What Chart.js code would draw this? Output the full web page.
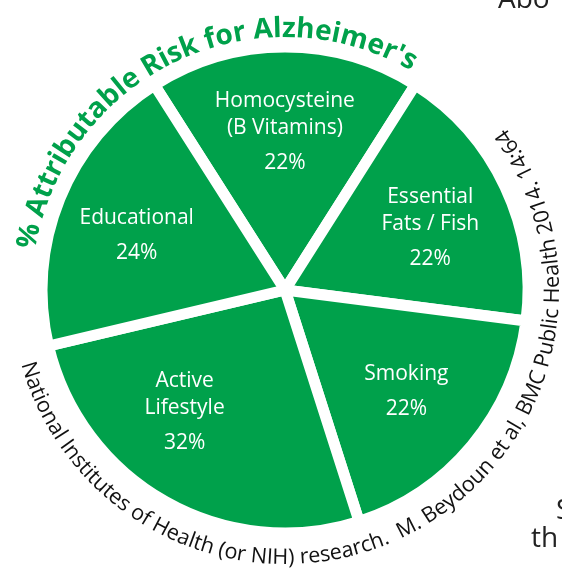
<!DOCTYPE html>
<html>
<head>
<meta charset="utf-8">
<script src="https://cdn.jsdelivr.net/npm/chart.js@4.4.1/dist/chart.umd.min.js"></script>
<style>
  html, body { margin: 0; padding: 0; background: #fff; }
  #marco { position: relative; width: 562px; height: 569px; overflow: hidden; }
  .suelto { position: absolute; font-family: 'Open Sans', sans-serif; font-size: 28px; color: #222; white-space: nowrap; line-height: 1; }
</style>
</head>
<body>
<div id="marco">
  <canvas id="chart" width="562" height="569"></canvas>
  <div class="suelto" style="left:498px; top:-17px;">Abo</div>
  <div class="suelto" style="left:556px; top:494px;">S</div>
  <div class="suelto" style="left:531px; top:522px;">th</div>
</div>
<script>
// datos
const categorias = [
  ['Homocysteine', '(B Vitamins)'],
  ['Essential', 'Fats / Fish'],
  ['Smoking'],
  ['Active', 'Lifestyle'],
  ['Educational']
];
const porcentajes = [22, 22, 22, 32, 24];

const titulo = "% Attributable Risk for Alzheimer's";
const fuente = 'National Institutes of Health (or NIH) research.  M. Beydoun et al, BMC Public Health 2014. 14:64';

const VERDE = '#00A14B';
// pequeño giro (grados) de cada etiqueta respecto al centro de su sector
const giroEtiqueta = [0, 2, 0, 10, -2];

// escribe un texto siguiendo un arco; angulo en grados desde arriba, sentido horario
function textoEnArco(ctx, texto, cx, cy, radio, anguloMedio, haciaFuera) {
  const total = ctx.measureText(texto).width;
  const dir = haciaFuera ? 1 : -1;
  let phi = (anguloMedio - 90) * Math.PI / 180 - dir * total / radio / 2;
  for (const ch of texto) {
    const w = ctx.measureText(ch).width;
    const a = phi + dir * w / radio / 2;
    ctx.save();
    ctx.translate(cx, cy);
    if (haciaFuera) {
      ctx.rotate(a + Math.PI / 2);
      ctx.fillText(ch, 0, -radio);
    } else {
      ctx.rotate(a - Math.PI / 2);
      ctx.fillText(ch, 0, radio);
    }
    ctx.restore();
    phi += dir * w / radio;
  }
}

const etiquetasPlugin = {
  id: 'etiquetas',
  afterDatasetsDraw(chart) {
    const ctx = chart.ctx;
    const arcos = chart.getDatasetMeta(0).data;
    ctx.save();
    ctx.fillStyle = '#fff';
    ctx.font = '21px "Open Sans", sans-serif';
    ctx.textAlign = 'center';
    ctx.textBaseline = 'middle';
    arcos.forEach((arco, i) => {
      const { x, y, startAngle, endAngle, outerRadius } = arco.getProps(['x', 'y', 'startAngle', 'endAngle', 'outerRadius'], true);
      const medio = (startAngle + endAngle) / 2 + giroEtiqueta[i] * Math.PI / 180;
      const r = outerRadius * 0.65;
      const px = x + Math.cos(medio) * r;
      const py = y + Math.sin(medio) * r;
      const lineas = categorias[i];
      const alto = (lineas.length - 1) * 27 + 35;
      const y0 = py - alto / 2;
      lineas.forEach((l, j) => ctx.fillText(l, px, y0 + j * 27));
      ctx.fillText(porcentajes[i] + '%', px, y0 + (lineas.length - 1) * 27 + 35);
    });
    ctx.restore();
  },
  afterDraw(chart) {
    const ctx = chart.ctx;
    const arco = chart.getDatasetMeta(0).data[0];
    const { x, y, outerRadius } = arco.getProps(['x', 'y', 'outerRadius'], true);
    ctx.save();
    ctx.textAlign = 'center';
    ctx.textBaseline = 'alphabetic';

    ctx.fillStyle = VERDE;
    ctx.font = 'bold 28px "Open Sans", sans-serif';
    textoEnArco(ctx, titulo, x, y, outerRadius + 10, -25.5, true);

    ctx.fillStyle = '#111';
    ctx.font = '21.5px "Open Sans", sans-serif';
    textoEnArco(ctx, fuente, x, y, outerRadius + 31, 154, false);
    ctx.restore();
  }
};

const ctx = document.getElementById('chart').getContext('2d');
new Chart(ctx, {
  type: 'pie',
  data: {
    labels: categorias.map(c => c.join(' ')),
    datasets: [{
      data: porcentajes,
      backgroundColor: VERDE,
      borderColor: '#fff',
      borderWidth: 11
    }]
  },
  options: {
    responsive: false,
    animation: false,
    events: [],
    rotation: -32.5,
    radius: 243,
    layout: { padding: { left: 8, right: 0, top: 11, bottom: 0 } },
    plugins: {
      legend: { display: false },
      tooltip: { enabled: false }
    }
  },
  plugins: [etiquetasPlugin]
});
</script>
</body>
</html>
